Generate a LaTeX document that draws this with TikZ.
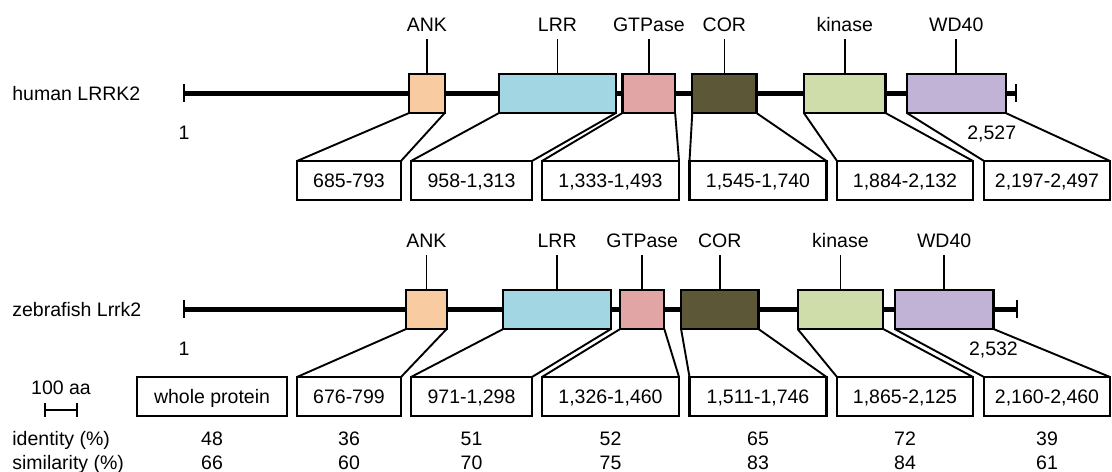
\documentclass[tikz,border=0pt]{standalone}
\usepackage{fontspec}
\setmainfont{Liberation Sans}
\usetikzlibrary{positioning,calc}
\definecolor{ankfill}{HTML}{F8CBA0}
\definecolor{lrrfill}{HTML}{A3D6E3}
\definecolor{gtpfill}{HTML}{E1A5A5}
\definecolor{corfill}{HTML}{5C5737}
\definecolor{kinfill}{HTML}{CFDDAA}
\definecolor{wdfill}{HTML}{C1B3D5}

\begin{document}
\begin{tikzpicture}[
  x=0.5pt, y=0.5pt,
  font=\fontsize{9.75}{11}\selectfont,
  txt/.style={inner sep=0pt, text height=7pt, text depth=0pt},
  backbone/.style={line width=2.4pt},
  endtick/.style={line width=1pt},
  dombox/.style={draw, line width=1.1pt, inner sep=0pt, outer sep=0pt, minimum height=19.5pt},
  rngbox/.style={draw, line width=1.1pt, inner sep=0pt, outer sep=0pt, minimum height=19.5pt, txt},
  zoomline/.style={line width=0.95pt},
  stem/.style={line width=0.85pt}
]
\useasboundingbox (0,0) rectangle (1112,471);
\def\xo{183.67} \def\xs{0.3292}

% human LRRK2
\def\ly{377.5}
\node[txt, anchor=west] (h-name) at (12,\ly) {human LRRK2};
\coordinate (h-n) at ({\xo+\xs},\ly);
\coordinate (h-c) at ({\xo+2527*\xs},\ly);
\draw[backbone] (h-n) -- (h-c);
\draw[endtick] ($(h-n)+(0,9)$) -- ($(h-n)+(0,-9)$);
\draw[endtick] ($(h-c)+(0,9)$) -- ($(h-c)+(0,-9)$);
\node[txt] (h-first) at ($(h-n)+(0,-39)$) {1};
\node[txt, anchor=east] (h-last) at ($(h-c)+(1,-39)$) {2,527};
\foreach \i/\s/\e/\col/\dn/\rx/\rw/\rn in {
  1/685/793/ankfill/ANK/349/104/685-793,
  2/958/1313/lrrfill/LRR/471.5/121/{958-1,313},
  3/1333/1493/gtpfill/GTPase/610.5/137/{1,333-1,493},
  4/1545/1740/corfill/COR/758/137/{1,545-1,740},
  5/1884/2132/kinfill/kinase/905/136/{1,884-2,132},
  6/2197/2497/wdfill/WD40/1047/126/{2,197-2,497}} {
  \node[dombox, fill=\col, minimum width={(\e-\s)*\xs*0.5pt}] (h-d\i) at ({\xo+(\s+\e)/2*\xs},\ly) {};
  \draw[stem] (h-d\i.north) -- ++(0,35) coordinate (h-s\i);
  \node[txt, above=3.5pt of h-s\i] (h-l\i) {\dn};
  \node[rngbox, minimum width={\rw*0.5pt}] (h-r\i) at (\rx,{\ly-87}) {\rn};
  \draw[zoomline] (h-d\i.south west) -- (h-r\i.north west);
  \draw[zoomline] (h-d\i.south east) -- (h-r\i.north east);
}

% zebrafish Lrrk2
\def\ly{161.5}
\node[txt, anchor=west] (z-name) at (12,\ly) {zebrafish Lrrk2};
\coordinate (z-n) at ({\xo+\xs},\ly);
\coordinate (z-c) at ({\xo+2532*\xs},\ly);
\draw[backbone] (z-n) -- (z-c);
\draw[endtick] ($(z-n)+(0,9)$) -- ($(z-n)+(0,-9)$);
\draw[endtick] ($(z-c)+(0,9)$) -- ($(z-c)+(0,-9)$);
\node[txt] (z-first) at ($(z-n)+(0,-39)$) {1};
\node[txt, anchor=east] (z-last) at ($(z-c)+(1,-39)$) {2,532};
\foreach \i/\s/\e/\col/\dn/\rx/\rw/\rn in {
  1/676/799/ankfill/ANK/349/104/676-799,
  2/971/1298/lrrfill/LRR/471.5/121/{971-1,298},
  3/1326/1460/gtpfill/GTPase/610.5/137/{1,326-1,460},
  4/1511/1746/corfill/COR/758/137/{1,511-1,746},
  5/1865/2125/kinfill/kinase/905/136/{1,865-2,125},
  6/2160/2460/wdfill/WD40/1047/126/{2,160-2,460}} {
  \node[dombox, fill=\col, minimum width={(\e-\s)*\xs*0.5pt}] (z-d\i) at ({\xo+(\s+\e)/2*\xs},\ly) {};
  \draw[stem] (z-d\i.north) -- ++(0,35) coordinate (z-s\i);
  \node[txt, above=3.5pt of z-s\i] (z-l\i) {\dn};
  \node[rngbox, minimum width={\rw*0.5pt}] (z-r\i) at (\rx,{\ly-87}) {\rn};
  \draw[zoomline] (z-d\i.south west) -- (z-r\i.north west);
  \draw[zoomline] (z-d\i.south east) -- (z-r\i.north east);
}
\node[rngbox, minimum width=75pt] (z-r0) at (212,{\ly-87}) {whole protein};

% scale bar
\node[txt] (bar-label) at (61,83) {100 aa};
\coordinate (bar-l) at (44.5,61);
\coordinate (bar-r) at ({44.5+100*\xs},61);
\draw[endtick] (bar-l) -- (bar-r);
\draw[endtick] ($(bar-l)+(0,7)$) -- ($(bar-l)+(0,-7)$);
\draw[endtick] ($(bar-r)+(0,7)$) -- ($(bar-r)+(0,-7)$);

% identity / similarity
\coordinate (idrow) at (0,33);
\coordinate (simrow) at (0,9);
\node[txt, anchor=west] (id-name) at (12,33) {identity (\%)};
\node[txt, anchor=west] (sim-name) at (12,9) {similarity (\%)};
\foreach \i/\a/\b in {0/48/66, 1/36/60, 2/51/70, 3/52/75, 4/65/83, 5/72/84, 6/39/61} {
  \node[txt] (id\i) at (z-r\i |- idrow) {\a};
  \node[txt] (sim\i) at (z-r\i |- simrow) {\b};
}
\end{tikzpicture}
\end{document}
